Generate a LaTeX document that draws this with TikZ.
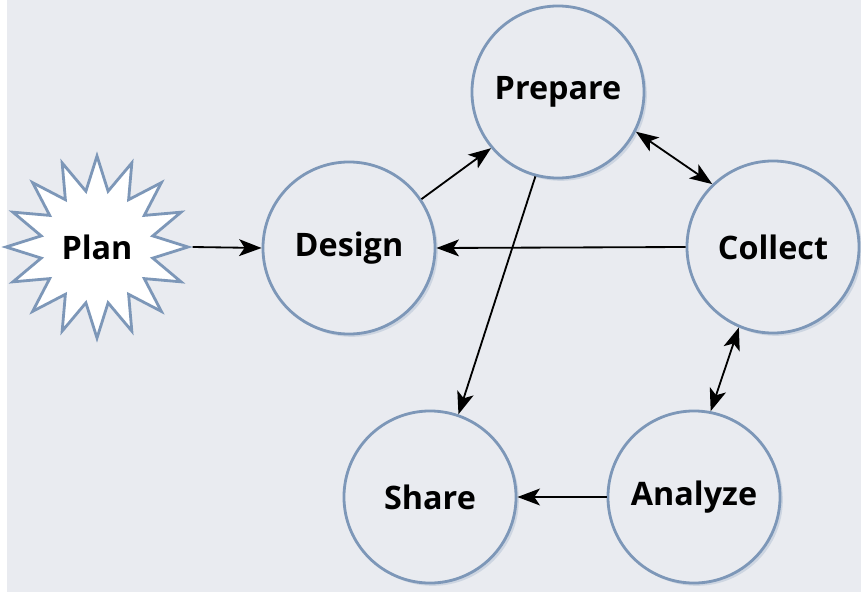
\documentclass[tikz,border=0pt]{standalone}
\usepackage{fontspec}
\setmainfont{Open Sans}
\usetikzlibrary{shapes,arrows.meta,positioning,shadows}

\definecolor{bgcol}{HTML}{E9EBF0}
\definecolor{ringcol}{HTML}{7D97B8}

\begin{document}
\begin{tikzpicture}[x=0.025cm, y=-0.025cm]

% Define styles
\tikzstyle{stage} = [circle, minimum size=4.3cm, inner sep=0pt, draw=ringcol, fill=bgcol, line width=2pt, font=\bfseries\fontsize{23}{27}\selectfont, drop shadow={shadow xshift=2pt, shadow yshift=-2pt, fill=ringcol, opacity=0.25}]
\tikzstyle{burst} = [star, star points=16, star point ratio=1.6, minimum size=4.55cm, inner sep=0pt, draw=ringcol, fill=white, line width=2pt, font=\bfseries\fontsize{23}{27}\selectfont]
\tikzstyle{flow} = [draw=black, line width=1.3pt, -{Stealth[length=16pt, width=12pt, inset=4pt]}]
\tikzstyle{twoway} = [draw=black, line width=1.3pt, {Stealth[length=16pt, width=12pt, inset=4pt]}-{Stealth[length=16pt, width=12pt, inset=4pt]}]

% Background
\fill [white] (0,0) rectangle (861,592);
\fill [bgcol] (7,0) rectangle (861,592);

% START
\node (plan) [burst] at (97,247) {Plan};

% CYCLE
\node (design) [stage] at (349,248) {Design};
\node (prepare) [stage] at (558,92) {Prepare};
\node (collect) [stage] at (773,247) {Collect};
\node (analyze) [stage] at (694,497) {Analyze};
\node (share) [stage] at (430,497) {Share};

% Connections
\draw [flow] (plan.east) -- (design.west);
\draw [flow] (design.34) -- (prepare.220);
\draw [twoway] (prepare.-27) -- (collect.134);
\draw [flow] (collect.west) -- (design.east);
\draw [twoway] (collect.247) -- (analyze.79);
\draw [flow] (analyze.west) -- (share.east);
\draw [flow] (prepare.255) -- (share.71);

\end{tikzpicture}
\end{document}
